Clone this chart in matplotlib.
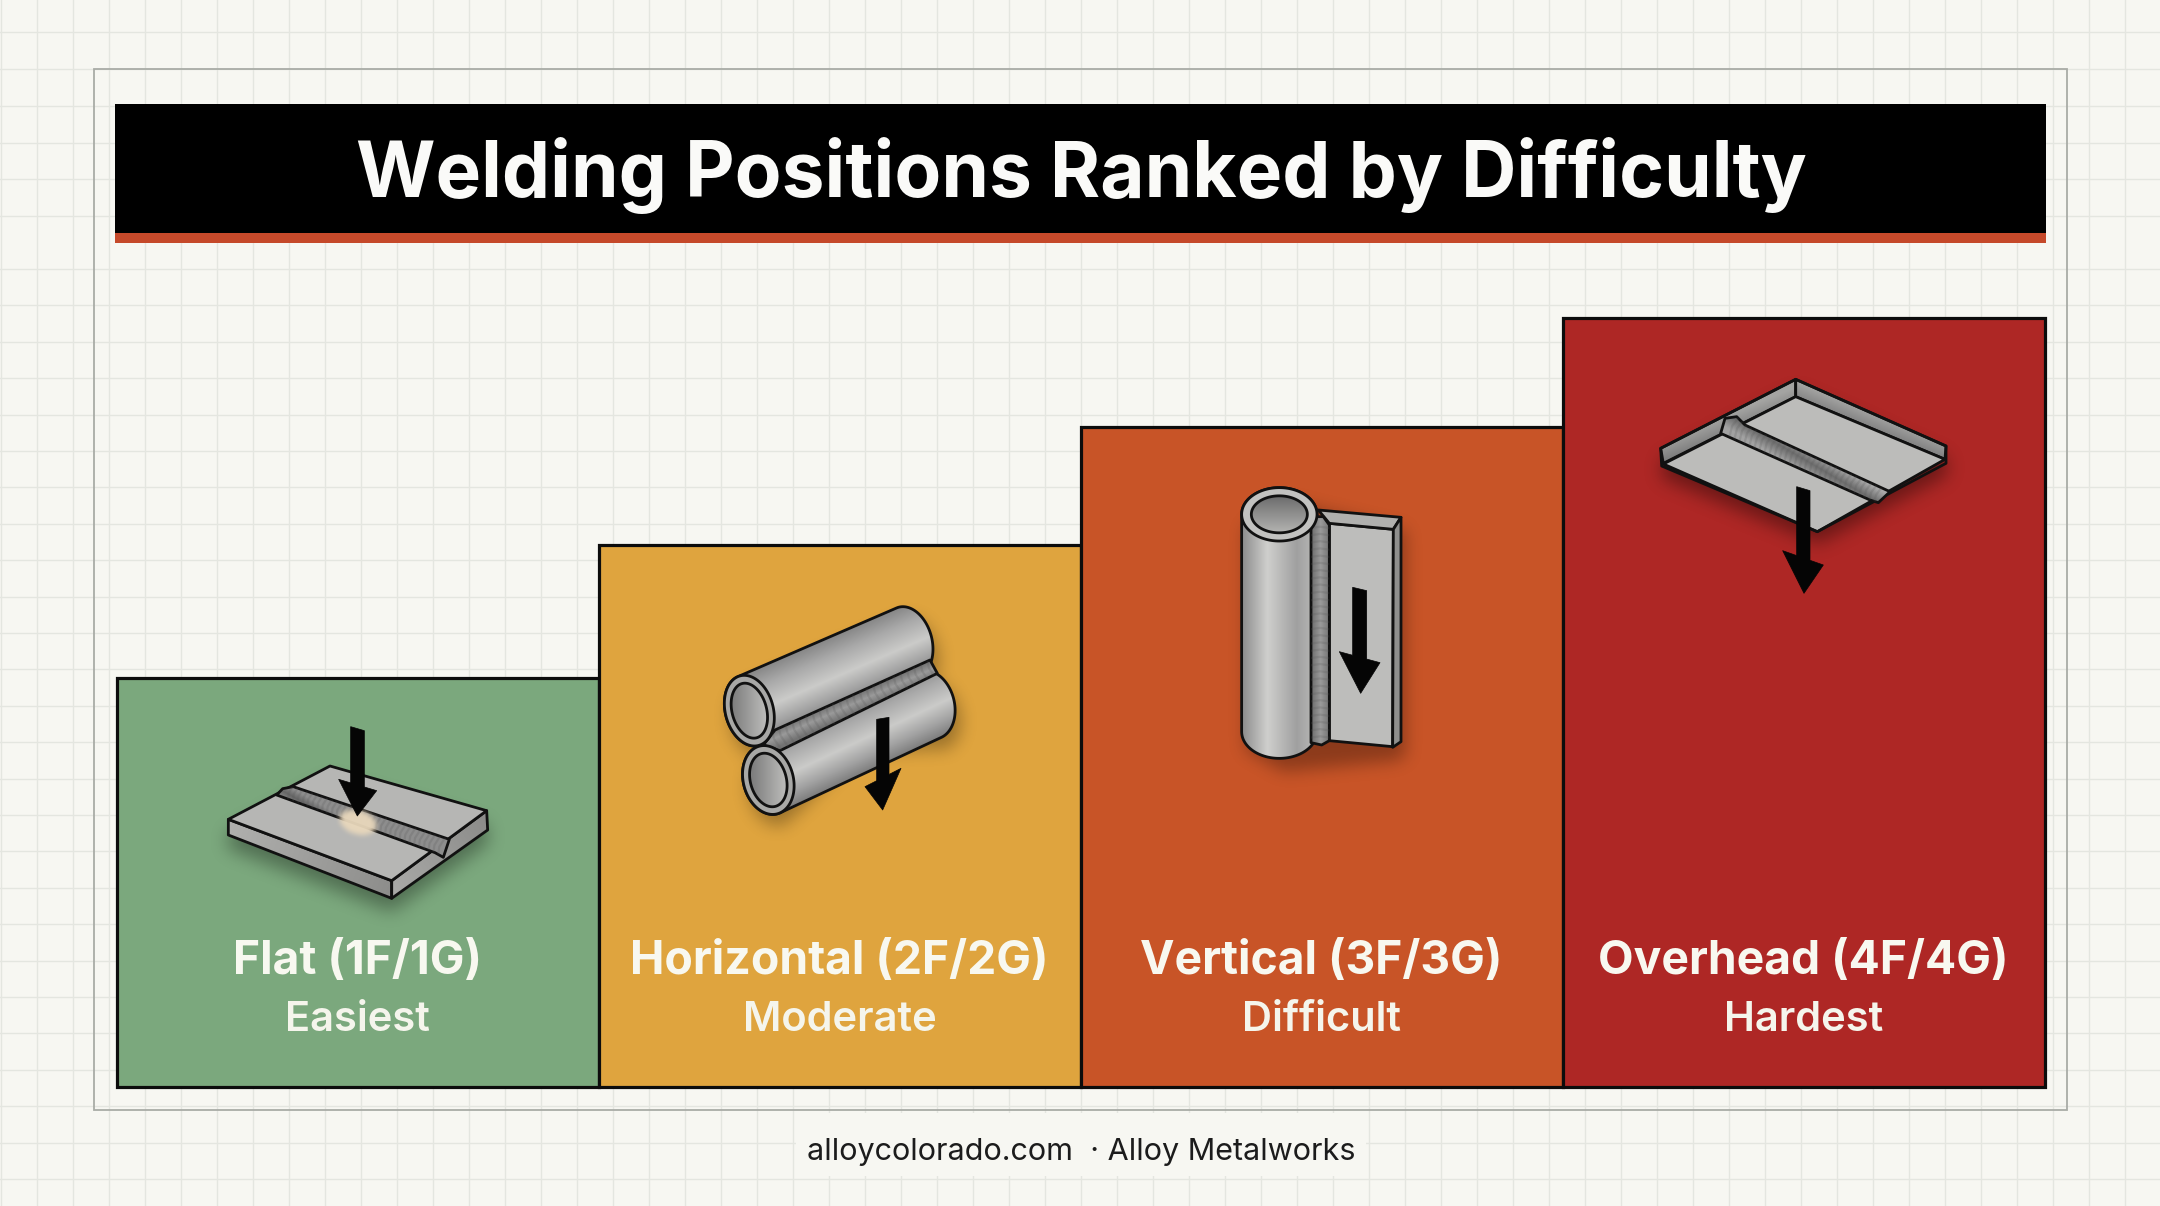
#!/usr/bin/env python3
"""
Welding positions ranked by difficulty: stepped bars with a small drawn icon in each.
The axes run in picture pixels (y down) so the icon outlines can be traced from the reference.
"""
import matplotlib

matplotlib.use("Agg")
import matplotlib.pyplot as plt
import numpy as np
from matplotlib.colors import to_rgb
from matplotlib.patches import Polygon, Rectangle
from matplotlib.path import Path

W, H = 2160, 1206
DPI = 100

TITLE = "Welding Positions Ranked by Difficulty"
FOOTER = "alloycolorado.com  · Alloy Metalworks"
POSITIONS = ["Flat (1F/1G)", "Horizontal (2F/2G)", "Vertical (3F/3G)", "Overhead (4F/4G)"]
RATINGS = ["Easiest", "Moderate", "Difficult", "Hardest"]
BAR_HEIGHTS = [409, 542, 660, 769]
BAR_COLORS = ["#7BA87D", "#DFA43E", "#C85427", "#AE2725"]

BASELINE = 1087
BAR_LEFT = 116.5
BAR_WIDTH = 482
INK = "#111111"
STEEL = [(0, "#858585"), (0.25, "#a9a9a9"), (0.55, "#cbcbc9"), (0.8, "#a2a2a2"), (1, "#7c7c7c")]
SEAM = [(0, "#6e6e6e"), (0.5, "#9a9a9a"), (1, "#737373")]

plt.rcParams["font.family"] = ["Inter", "DejaVu Sans"]

fig = plt.figure(figsize=(W / DPI, H / DPI), dpi=DPI, facecolor="#F7F7F2")
ax = fig.add_axes([0, 0, 1, 1])
ax.set_xlim(0, W)
ax.set_ylim(H, 0)
ax.set_autoscale_on(False)
ax.axis("off")


def z(origin, pts):
    return np.array(pts, dtype=float) / 3 + np.array(origin, dtype=float)


def poly(pts, fc, ec=INK, lw=2.0, zorder=5):
    p = Polygon(pts, closed=True, fc=fc, ec=ec, lw=lw, joinstyle="round", zorder=zorder)
    ax.add_patch(p)
    return p


def grad(pts, p0, p1, stops, zorder=5, lw=2.0):
    # linear gradient from p0 to p1, clipped to the outline
    pts = np.asarray(pts)
    x0, y0 = pts.min(axis=0) - 2
    x1, y1 = pts.max(axis=0) + 2
    xs, ys = np.meshgrid(np.arange(x0, x1), np.arange(y0, y1))
    d = np.subtract(p1, p0, dtype=float)
    t = np.clip(((xs - p0[0]) * d[0] + (ys - p0[1]) * d[1]) / (d @ d), 0, 1)
    pos = [s[0] for s in stops]
    cols = np.array([to_rgb(s[1]) for s in stops])
    img = np.dstack([np.interp(t, pos, cols[:, i]) for i in range(3)])
    clip = Polygon(pts, closed=True, fc="none", ec="none", transform=ax.transData)
    ax.add_patch(clip)
    im = ax.imshow(img, extent=(x0, x1, y1, y0), aspect="auto", zorder=zorder, interpolation="bilinear")
    im.set_clip_path(clip)
    if lw:
        poly(pts, "none", lw=lw, zorder=zorder + 0.1)
    return clip


def shadow(pts, dx=0, dy=14, blur=12, alpha=0.4, zorder=4, color="#000000"):
    pts = np.asarray(pts) + (dx, dy)
    pad = blur * 3
    x0, y0 = pts.min(axis=0) - pad
    x1, y1 = pts.max(axis=0) + pad
    xs, ys = np.meshgrid(np.arange(x0, x1), np.arange(y0, y1))
    mask = Path(pts).contains_points(np.c_[xs.ravel(), ys.ravel()]).reshape(xs.shape).astype(float)
    kernel = np.ones(blur) / blur
    for _ in range(3):
        mask = np.apply_along_axis(np.convolve, 0, mask, kernel, mode="same")
        mask = np.apply_along_axis(np.convolve, 1, mask, kernel, mode="same")
    rgba = np.zeros(mask.shape + (4,))
    rgba[..., :3] = to_rgb(color)
    rgba[..., 3] = mask * alpha
    ax.imshow(rgba, extent=(x0, x1, y1, y0), aspect="auto", zorder=zorder)


def ellipse(c, a, b, u, n=120):
    u = np.array(u, dtype=float)
    u /= np.linalg.norm(u)
    v = np.array([u[1], -u[0]])
    t = np.linspace(0, 2 * np.pi, n, endpoint=False)
    return np.array(c) + a * np.cos(t)[:, None] * u + b * np.sin(t)[:, None] * v


def tube_outline(c0, c1, a, b, u):
    # near and far end ellipse joined at their tangent points
    c0, c1 = np.array(c0, dtype=float), np.array(c1, dtype=float)
    e = ellipse((0, 0), a, b, u)
    d = (c1 - c0) / np.linalg.norm(c1 - c0)
    n = np.array([-d[1], d[0]])
    s = e @ n
    e = np.roll(e, -int(s.argmax()), axis=0)
    s = e @ n
    k = int(s.argmin())
    first, second = e[: k + 1], np.r_[e[k:], e[:1]]
    if (first @ d).sum() > (second @ d).sum():
        far, near = first, second
    else:
        far, near = second, first
    return np.r_[c1 + far, c0 + near]


def tube(c0, c1, a, b, u, stops=STEEL, zorder=5):
    c0, c1 = np.array(c0, dtype=float), np.array(c1, dtype=float)
    pts = tube_outline(c0, c1, a, b, u)
    d = (c1 - c0) / np.linalg.norm(c1 - c0)
    n = np.array([-d[1], d[0]])
    s = (pts - c0) @ n
    grad(pts, c0 + n * s.min(), c0 + n * s.max(), stops, zorder=zorder)
    return pts


def ripples(p0, p1, half, count, zorder, clip):
    p0, p1 = np.array(p0, dtype=float), np.array(p1, dtype=float)
    d = (p1 - p0) / np.linalg.norm(p1 - p0)
    n = np.array([-d[1], d[0]])
    for f in np.linspace(0.02, 0.98, count):
        c = p0 + (p1 - p0) * f
        a, b = c - n * half + d * 1.5, c + n * half + d * 1.5
        line = ax.plot([a[0], c[0] - d[0], b[0]], [a[1], c[1] - d[1], b[1]], color="#555555", lw=1.6, alpha=0.2, zorder=zorder)[0]
        line.set_clip_path(clip)


def arrow(o, top_l, top_r, head_l, head_r, tip, zorder=7):
    # the neck points lie on the slanted back edge of the head
    yl = head_l[1] + (top_l[0] - head_l[0]) * (head_r[1] - head_l[1]) / (head_r[0] - head_l[0])
    yr = head_l[1] + (top_r[0] - head_l[0]) * (head_r[1] - head_l[1]) / (head_r[0] - head_l[0])
    pts = z(o, [top_l, top_r, (top_r[0], yr), head_r, tip, head_l, (top_l[0], yl)])
    poly(pts, "#050505", ec="#050505", lw=0.5, zorder=zorder)


def flat_icon():
    o = (100, 660)
    outer = z(o, [(385, 478), (690, 318), (1160, 452), (1163, 510), (875, 715), (385, 525)])
    shadow(outer, dy=14, blur=17, alpha=0.34)
    grad(z(o, [(385, 478), (875, 662), (875, 715), (385, 525)]), z(o, [(385, 500)])[0], z(o, [(875, 690)])[0],
         [(0, "#b0b0ae"), (1, "#8d8d8b")], zorder=5)
    grad(z(o, [(875, 662), (1160, 452), (1163, 510), (875, 715)]), z(o, [(875, 690)])[0], z(o, [(1160, 480)])[0],
         [(0, "#a9a9a7"), (1, "#8c8c8a")], zorder=5)
    poly(z(o, [(385, 478), (690, 318), (1160, 452), (875, 662)]), "#B6B6B4", zorder=5.2)
    bead = z(o, [(530, 405), (548, 386), (580, 380), (1048, 538), (1030, 592), (1005, 578)])
    clip = grad(bead, z(o, [(555, 375)])[0], z(o, [(535, 410)])[0], [(0, "#8d8d8d"), (0.5, "#666666"), (1, "#8a8a8a")], zorder=5.4)
    ripples(z(o, [(560, 395)])[0], z(o, [(1030, 565)])[0], 11, 32, 5.6, clip)
    # arc glow where the arrow lands
    shadow(ellipse(z(o, [(772, 488)])[0], 19, 12, (1, 0.3)), dy=0, blur=5, alpha=0.95, zorder=5.8, color="#E9D8BC")
    arrow(o, (752, 200), (793, 212), (716, 358), (830, 392), (772, 468))


def horizontal_icon():
    o = (680, 570)
    u = (0.26, 0.97)
    up_near, up_far = z(o, [(208, 422), (684, 216)])
    low = tube(z(o, [(265, 630)])[0], z(o, [(748, 404)])[0], 35, 25, u, zorder=5)
    up = tube_outline(up_near, up_far, 36, 24, u)
    shadow(np.r_[low, up], dx=4, dy=10, blur=16, alpha=0.3)
    tube(up_near, up_far, 36, 24, u, zorder=5.1)
    # seam goes over both pipes, the end rings cover its lower end
    bead = z(o, [(250, 525), (285, 480), (750, 270), (772, 310), (300, 542)])
    clip = grad(bead, z(o, [(508, 375)])[0], z(o, [(530, 425)])[0], SEAM, zorder=5.3)
    ripples(z(o, [(275, 510)])[0], z(o, [(760, 290)])[0], 14, 24, 5.4, clip)
    for c, a, b, zo in [((208, 422), 36, 24, 5.6), ((265, 630), 35, 25, 5.6)]:
        c = z(o, [c])[0]
        poly(ellipse(c, a, b, u), "#A8A8A6", zorder=zo)
        grad(ellipse(c, a * 0.78, b * 0.72, u), c + (-17, 0), c + (17, 0), [(0, "#7e7e7e"), (1, "#bdbdbb")], zorder=zo + 0.1)
    arrow(o, (590, 448), (627, 442), (555, 650), (663, 595), (608, 720))


def vertical_icon():
    o = (1200, 460)
    outer = z(o, [(125, 163), (238, 83), (603, 172), (603, 850), (578, 862), (238, 895), (125, 830)])
    shadow(outer, dx=2, dy=12, blur=16, alpha=0.3)
    poly(z(o, [(388, 190), (580, 208), (578, 860), (388, 842)]), "#BDBDBB", zorder=5)
    poly(z(o, [(355, 150), (603, 172), (580, 208), (388, 190)]), "#B0B0AE", zorder=5)
    poly(z(o, [(603, 172), (603, 845), (578, 862), (580, 208)]), "#8F8F8D", zorder=5)
    c0, c1 = z(o, [(238, 815), (238, 163)])
    stops = [(0, "#8d8d8d"), (0.33, "#cfcfcd"), (0.72, "#a0a0a0"), (1, "#bdbdbb")]
    tube(c0, c1, 37.7, 26.7, (1, 0), stops=stops, zorder=5.2)
    bead = z(o, [(333, 195), (345, 170), (370, 170), (388, 195), (388, 842), (365, 855), (333, 848)])
    clip = grad(bead, z(o, [(333, 500)])[0], z(o, [(388, 500)])[0], SEAM, zorder=5.4)
    ripples(z(o, [(360, 190)])[0], z(o, [(360, 845)])[0], 18, 30, 5.5, clip)
    poly(ellipse(c1, 37.7, 26.7, (1, 0)), "#C2C2C0", zorder=5.6)
    grad(ellipse(c1, 28, 18.5, (1, 0)), c1 + (0, -18), c1 + (0, 18), [(0, "#6e6e6e"), (1, "#b4b4b2")], zorder=5.7)
    arrow(o, (458, 382), (500, 392), (418, 575), (540, 608), (482, 700))


def overhead_icon():
    o = (1630, 350)
    outer = z(o, [(92, 295), (497, 88), (948, 288), (948, 340), (562, 545), (95, 348)])
    shadow(outer, dy=12, blur=17, alpha=0.38)
    grad(z(o, [(92, 295), (497, 88), (497, 140), (100, 340)]), z(o, [(300, 190)])[0], z(o, [(320, 240)])[0],
         [(0, "#a4a4a2"), (1, "#808080")], zorder=5)
    grad(z(o, [(497, 88), (948, 288), (945, 328), (497, 140)]), z(o, [(740, 180)])[0], z(o, [(720, 230)])[0],
         [(0, "#adadab"), (1, "#858585")], zorder=5)
    poly(z(o, [(100, 342), (497, 140), (945, 328), (562, 545)]), "#BCBCBA", zorder=5.2)
    poly(outer, "none", zorder=5.3)
    bead = z(o, [(272, 250), (285, 205), (320, 200), (345, 225), (780, 425), (745, 458), (720, 450)])
    clip = grad(bead, z(o, [(545, 300)])[0], z(o, [(510, 360)])[0], [(0, "#a9a9a9"), (0.5, "#6d6d6d"), (1, "#a3a3a3")], zorder=5.4)
    ripples(z(o, [(300, 225)])[0], z(o, [(750, 440)])[0], 12, 30, 5.5, clip)
    arrow(o, (500, 410), (540, 422), (458, 602), (580, 645), (522, 730))


# background grid, it runs under the frame and stops behind the title band
grid_x = np.arange(1, W, 36)
grid_y = np.r_[[32, 69, 106, 143, 179, 216], np.arange(269, H, 36.4)]
for gx in grid_x:
    ax.plot([gx, gx], [0, H], color="#E4E6E0", lw=1.0, zorder=1)
for gy in grid_y:
    ax.plot([0, W], [gy, gy], color="#E4E6E0", lw=1.0, zorder=1)

# frame and title band
ax.add_patch(Rectangle((94, 69), 1973, 1041, fc="none", ec="#A9ACA6", lw=1.3, zorder=2))
ax.add_patch(Rectangle((114.5, 104), 1931, 130, fc="#000000", ec="none", zorder=3))
ax.add_patch(Rectangle((114.5, 233), 1931, 10, fc="#C5492A", ec="none", zorder=3))
ax.text(1081, 175, TITLE, color="#FAFAF8", fontsize=55.2, fontweight="bold", ha="center", va="center", zorder=4)

centers = [BAR_LEFT + BAR_WIDTH * (i + 0.5) for i in range(len(POSITIONS))]
ax.bar(centers, [-h for h in BAR_HEIGHTS], width=BAR_WIDTH, bottom=BASELINE, color=BAR_COLORS, edgecolor="#0C0C0C", linewidth=2.3, zorder=3)

for cx, name, rating in zip(centers, POSITIONS, RATINGS):
    ax.text(cx, 962, name, color="#F8F8F0", fontsize=33.3, fontweight="bold", ha="center", va="center", zorder=8)
    ax.text(cx, 1020, rating, color="#F5F5EC", fontsize=30, fontweight=600, ha="center", va="center", zorder=8)

flat_icon()
horizontal_icon()
vertical_icon()
overhead_icon()

# footer sits on a clean patch, the grid breaks around it
ax.add_patch(Rectangle((796, 1113), 570, 63, fc="#F7F7F2", ec="none", zorder=1.5))
ax.text(1081, 1152, FOOTER, color="#1C1C1C", fontsize=22, ha="center", va="center", zorder=4)

fig.savefig("out.png", dpi=DPI, facecolor=fig.get_facecolor())
